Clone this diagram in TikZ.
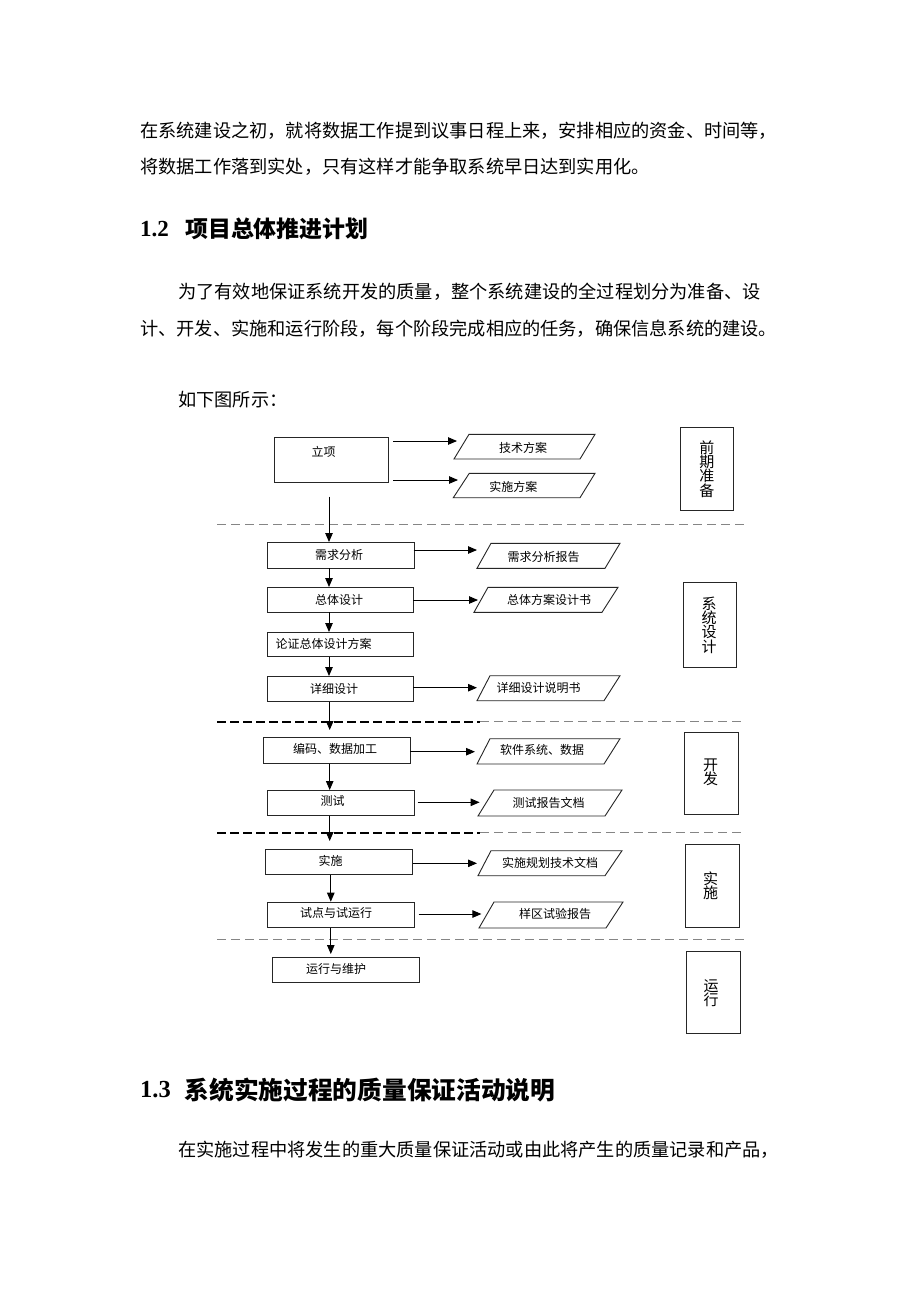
\documentclass[tikz,border=0pt]{standalone}
\usepackage{fontspec}
\setmainfont{Liberation Serif}
\newfontfamily\cjk{Noto Sans CJK SC}
\newfontfamily\tnr{Liberation Serif}
\usetikzlibrary{arrows.meta}
\XeTeXlinebreaklocale "zh"
\XeTeXlinebreakskip=0pt plus 3pt minus 0.6pt
\tikzset{
  box/.style={draw=black!85, line width=0.9pt, inner sep=0pt, anchor=north west},
  pbox/.style={draw=black!85, line width=0.9pt},
  lbl/.style={inner sep=0pt, font=\cjk\fontsize{12}{12}\selectfont},
  sidetxt/.style={inner sep=0pt, align=center, font=\cjk\fontsize{15}{14.3}\selectfont},
  arr/.style={-{Triangle[length=9pt,width=7.5pt]}, line width=0.9pt},
  gdash/.style={draw=black!48, line width=1.2pt, dash pattern=on 9pt off 5pt},
  bdash/.style={draw=black, line width=2pt, dash pattern=on 9pt off 4pt},
  body/.style={inner sep=0pt, anchor=west, font=\cjk\fontsize{18.2}{18.2}\selectfont},
}
\begin{document}
\begin{tikzpicture}[x=1pt, y=-1pt]
\useasboundingbox[fill=white] (0,0) rectangle (920,1302);

% ---------- text above ----------
\node[body] (t1) at (140,131) {\makebox[643pt][s]{在系统建设之初，就将数据工作提到议事日程上来，安排相应的资金、时间等，}};
\node[body] (t2) at (140,167) {将数据工作落到实处，只有这样才能争取系统早日达到实用化。};
\node[anchor=west, inner sep=0pt, font=\tnr\bfseries\fontsize{23}{23}\selectfont] (h12n) at (140,229) {1.2};
\node[anchor=west, inner sep=0pt, font=\cjk\bfseries\fontsize{22.9}{23}\selectfont] (h12t) at (185,229) {项目总体推进计划};
\node[body] (p1) at (178,292) {\makebox[605pt][s]{为了有效地保证系统开发的质量，整个系统建设的全过程划分为准备、设}};
\node[body] (p2) at (140,329) {\makebox[643pt][s]{计、开发、实施和运行阶段，每个阶段完成相应的任务，确保信息系统的建设。}};
\node[body] (p3) at (178,400) {如下图所示：};

% ---------- dashed separators ----------
\coordinate (d1a) at (217,524.3); \coordinate (d1b) at (745,524.3);
\draw[gdash] (d1a) -- (d1b);
\coordinate (d2a) at (217,721.7); \coordinate (d2m) at (480,721.7); \coordinate (d2b) at (745,721.7);
\draw[gdash] (d2m) -- (d2b);
\draw[bdash] (d2a) -- (d2m);
\coordinate (d3a) at (217,832.7); \coordinate (d3m) at (480,832.7); \coordinate (d3b) at (745,832.7);
\draw[gdash] (d3m) -- (d3b);
\draw[bdash] (d3a) -- (d3m);
\coordinate (d4a) at (217,939.3); \coordinate (d4b) at (745,939.3);
\draw[gdash] (d4a) -- (d4b);

% ---------- process boxes ----------
\node[box, minimum width=114pt, minimum height=45pt] (lx) at (274,437.3) {};
\node[lbl] (lxt) at (323.5,451.7) {立项};
\node[box, minimum width=146.5pt, minimum height=25.5pt] (xq) at (267,542) {};
\node[lbl] (xqt) at (339,555) {需求分析};
\node[box, minimum width=146.5pt, minimum height=24.5pt] (zt) at (266.5,587) {};
\node[lbl] (ztt) at (339,599.5) {总体设计};
\node[box, minimum width=146.5pt, minimum height=24pt] (lz) at (266.5,632) {};
\node[lbl] (lzt) at (323.6,644.3) {论证总体设计方案};
\node[box, minimum width=146.5pt, minimum height=25pt] (xx) at (266.5,676) {};
\node[lbl] (xxt) at (334,688.7) {详细设计};
\node[box, minimum width=146.7pt, minimum height=25.4pt] (bm) at (263.3,737.3) {};
\node[lbl] (bmt) at (335,749.3) {编码、数据加工};
\node[box, minimum width=146.9pt, minimum height=25pt] (cs) at (266.7,790) {};
\node[lbl] (cst) at (332.6,800.7) {测试};
\node[box, minimum width=147pt, minimum height=25pt] (ss) at (264.5,849.3) {};
\node[lbl] (sst) at (330.5,861) {实施};
\node[box, minimum width=146.6pt, minimum height=25pt] (sd) at (267.4,901.7) {};
\node[lbl] (sdt) at (336,913.3) {试点与试运行};
\node[box, minimum width=146.9pt, minimum height=25.6pt] (yx) at (271.7,956.7) {};
\node[lbl] (yxt) at (336,969.3) {运行与维护};

% ---------- output parallelograms ----------
\draw[pbox] (454,459) -- (580,459) -- (595,434.3) -- (469,434.3) -- cycle;
\node[lbl] (o1) at (523,448.3) {技术方案};
\draw[pbox] (453.3,497.7) -- (580,497.7) -- (595,473.3) -- (469.3,473.3) -- cycle;
\node[lbl] (o2) at (513.3,487.3) {实施方案};
\draw[pbox] (477,568.3) -- (605,568.3) -- (620,543.3) -- (491,543.3) -- cycle;
\node[lbl] (o3) at (543.6,557.3) {需求分析报告};
\draw[pbox] (474,612.3) -- (602,612.3) -- (618,587.3) -- (488,587.3) -- cycle;
\node[lbl] (o4) at (549,600) {总体方案设计书};
\draw[pbox] (477,700.7) -- (604,700.7) -- (620,675.7) -- (490,675.7) -- cycle;
\node[lbl] (o5) at (538.6,688) {详细设计说明书};
\draw[pbox] (477,764) -- (604,764) -- (620,738.7) -- (490,738.7) -- cycle;
\node[lbl] (o6) at (542,750) {软件系统、数据};
\draw[pbox] (478,816) -- (605,816) -- (622,790) -- (494,790) -- cycle;
\node[lbl] (o7) at (548.7,803.3) {测试报告文档};
\draw[pbox] (478,875.7) -- (605,875.7) -- (622,850.7) -- (491,850.7) -- cycle;
\node[lbl] (o8) at (550,862.7) {实施规划技术文档};
\draw[pbox] (479,928) -- (606,928) -- (623,902) -- (494,902) -- cycle;
\node[lbl] (o9) at (555,914) {样区试验报告};

% ---------- phase boxes ----------
\node[box, minimum width=53pt, minimum height=82.4pt] (s1) at (680,427.3) {};
\node[sidetxt] (s1t) at (s1.center) {前\\期\\准\\备};
\node[box, minimum width=53pt, minimum height=85pt] (s2) at (683,582) {};
\node[sidetxt] (s2t) at (709,625) {系\\统\\设\\计};
\node[box, minimum width=54pt, minimum height=82pt] (s3) at (684,731.7) {};
\node[sidetxt] (s3t) at (710.7,772.5) {开\\发};
\node[box, minimum width=54.4pt, minimum height=82.7pt] (s4) at (684.6,844) {};
\node[sidetxt] (s4t) at (710.7,886) {实\\施};
\node[box, minimum width=54.4pt, minimum height=82.6pt] (s5) at (685.6,950.7) {};
\node[sidetxt] (s5t) at (711,993) {运\\行};

% ---------- horizontal arrows ----------
\coordinate (a1s) at (393.3,441); \coordinate (a1e) at (457,441);
\draw[arr] (a1s) -- (a1e);
\coordinate (a2s) at (393,480); \coordinate (a2e) at (458,480);
\draw[arr] (a2s) -- (a2e);
\coordinate (a3s) at (413.5,550); \coordinate (a3e) at (477,550);
\draw[arr] (a3s) -- (a3e);
\coordinate (a4s) at (413,600); \coordinate (a4e) at (478,600);
\draw[arr] (a4s) -- (a4e);
\coordinate (a5s) at (413,687.7); \coordinate (a5e) at (477,687.7);
\draw[arr] (a5s) -- (a5e);
\coordinate (a6s) at (410,751.7); \coordinate (a6e) at (475,751.7);
\draw[arr] (a6s) -- (a6e);
\coordinate (a7s) at (417.6,802.3); \coordinate (a7e) at (479.6,802.3);
\draw[arr] (a7s) -- (a7e);
\coordinate (a8s) at (413,863.3); \coordinate (a8e) at (477,863.3);
\draw[arr] (a8s) -- (a8e);
\coordinate (a9s) at (418.6,914); \coordinate (a9e) at (481.4,914);
\draw[arr] (a9s) -- (a9e);

% ---------- vertical arrows ----------
\coordinate (v1s) at (329,496.7);
\draw[arr] (v1s) -- (v1s |- xq.north);
\draw[arr] (xq.south -| 329,0) -- (zt.north -| 329,0);
\draw[arr] (zt.south -| 329,0) -- (lz.north -| 329,0);
\draw[arr] (lz.south -| 329,0) -- (xx.north -| 329,0);
\coordinate (v5e) at (329.7,730);
\draw[arr] (xx.south -| 329.7,0) -- (v5e);
\draw[arr] (bm.south -| 329.7,0) -- (cs.north -| 329.7,0);
\coordinate (v7e) at (329.7,841);
\draw[arr] (cs.south -| 329.7,0) -- (v7e);
\draw[arr] (ss.south -| 330.8,0) -- (sd.north -| 330.8,0);
\coordinate (v9e) at (330.8,954);
\draw[arr] (sd.south -| 330.8,0) -- (v9e);

% ---------- text below ----------
\node[anchor=west, inner sep=0pt, font=\tnr\bfseries\fontsize{24.5}{24.5}\selectfont] (h13n) at (140,1090) {1.3};
\node[anchor=west, inner sep=0pt, font=\cjk\bfseries\fontsize{24.7}{25}\selectfont] (h13t) at (184.5,1090) {系统实施过程的质量保证活动说明};
\node[body] (q1) at (178,1150) {\makebox[605pt][s]{在实施过程中将发生的重大质量保证活动或由此将产生的质量记录和产品，}};
\end{tikzpicture}
\end{document}
